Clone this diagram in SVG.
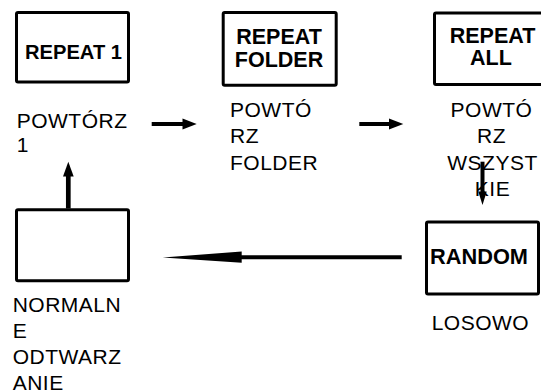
<svg xmlns="http://www.w3.org/2000/svg" width="541" height="390" viewBox="0 0 541 390">
  <style>
    .box { fill: #ffffff; stroke: #000000; stroke-width: 3; }
    .title { font-family: "Liberation Sans", Arial, sans-serif; font-weight: bold; font-size: 21.5px; fill: #000000; }
    .label { font-family: "Liberation Sans", Arial, sans-serif; font-size: 21px; fill: #000000; letter-spacing: 0.5px; }
    .mid { text-anchor: middle; }
    .shaft { stroke: #000000; stroke-width: 4; fill: none; }
    .head { fill: #000000; stroke: none; }
  </style>
  <rect width="541" height="390" fill="#ffffff"/>

  <!-- mode: repeat one -->
  <g id="repeat-1">
    <rect class="box" x="16.5" y="12.5" width="112" height="69.5" rx="1.5"/>
    <text class="title" x="25" y="59" textLength="97" lengthAdjust="spacingAndGlyphs" style="font-size:20px">REPEAT 1</text>
    <text class="label" x="16.7" y="128.3">POWTÓRZ</text>
    <text class="label" x="16.7" y="151.7">1</text>
  </g>

  <!-- mode: repeat folder -->
  <g id="repeat-folder">
    <rect class="box" x="223.2" y="12.5" width="113" height="72.7" rx="1.5"/>
    <text class="title mid" x="279" y="44">REPEAT</text>
    <text class="title mid" x="279" y="66.7">FOLDER</text>
    <text class="label" x="230" y="116.7">POWTÓ</text>
    <text class="label" x="230" y="143.3">RZ</text>
    <text class="label" x="230" y="169.5">FOLDER</text>
  </g>

  <!-- mode: repeat all -->
  <g id="repeat-all">
    <rect class="box" x="434.5" y="13" width="113" height="71.5" rx="1.5"/>
    <text class="title mid" x="492.5" y="43.3">REPEAT</text>
    <text class="title mid" x="491" y="65">ALL</text>
    <text class="label mid" x="491.5" y="116.7">POWTÓ</text>
    <text class="label mid" x="491.5" y="143.3">RZ</text>
    <text class="label mid" x="492.5" y="169.5">WSZYST</text>
    <text class="label mid" x="492.5" y="196">KIE</text>
  </g>

  <!-- mode: random -->
  <g id="random">
    <rect class="box" x="426.5" y="222" width="112" height="72" rx="1.5"/>
    <text class="title" x="430" y="264" textLength="98" lengthAdjust="spacingAndGlyphs">RANDOM</text>
    <text class="label" x="431.7" y="330">LOSOWO</text>
  </g>

  <!-- mode: normal playback -->
  <g id="normal">
    <rect class="box" x="16.5" y="209.8" width="112" height="71" rx="1.5"/>
    <text class="label" x="12.7" y="311.7">NORMALN</text>
    <text class="label" x="12.7" y="338.3">E</text>
    <text class="label" x="12.7" y="364">ODTWARZ</text>
    <text class="label" x="12.7" y="389.5">ANIE</text>
  </g>

  <!-- cycle order -->
  <g id="connectors">
    <line class="shaft" x1="151.7" y1="124" x2="183.5" y2="124"/>
    <polygon class="head" points="182.5,118.5 196.7,124 182.5,129.5"/>

    <line class="shaft" x1="359.3" y1="124" x2="390" y2="124"/>
    <polygon class="head" points="389,118.5 403.3,124 389,129.5"/>

    <line class="shaft" x1="482.5" y1="161.7" x2="482.5" y2="192.5"/>
    <polygon class="head" points="478.3,191.5 486.7,191.5 482.5,205"/>

    <line class="shaft" x1="401.7" y1="257.3" x2="241" y2="257.3"/>
    <polygon class="head" points="241.7,251.5 241.7,262.8 162.7,257.5"/>

    <line class="shaft" x1="68.3" y1="208.5" x2="68.3" y2="175" style="stroke-width:4.7"/>
    <polygon class="head" points="63,176.5 73.7,176.5 68.3,161.7"/>
  </g>
</svg>
